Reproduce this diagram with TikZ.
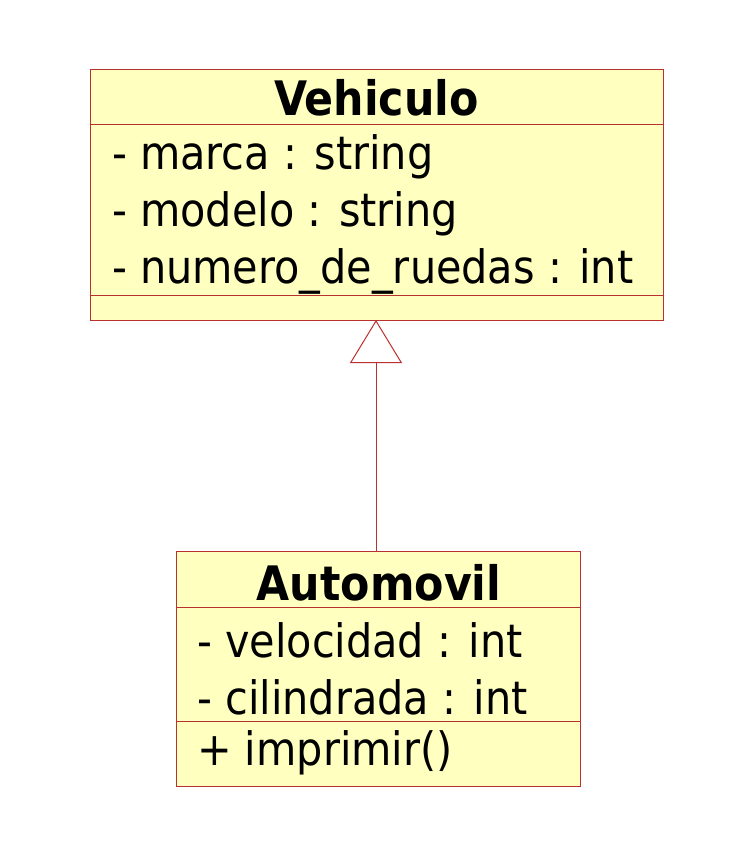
\documentclass[tikz,border=0pt]{standalone}
\usepackage{fontspec}
\setmainfont{DejaVu Sans Condensed}
\usetikzlibrary{arrows.meta}
\definecolor{umlfill}{HTML}{FFFFC0}
\definecolor{umlline}{HTML}{B83030}
\begin{document}
\begin{tikzpicture}[x=1pt,y=-1pt,
  classbox/.style={draw=umlline,fill=umlfill,line width=1pt,inner sep=0pt,anchor=north west},
  sep/.style={draw=umlline,line width=1pt},
  title/.style={font=\fontsize{47.5}{47.5}\selectfont\bfseries,anchor=center,inner sep=0pt},
  attr/.style={font=\fontsize{46}{46}\selectfont,anchor=west,inner sep=0pt},
  inherit/.style={draw=umlline,line width=1pt,-{Triangle[open,length=43pt,width=52pt,line width=1pt]}}]
\useasboundingbox (0,0) rectangle (752,856);
% Vehiculo
\node[classbox,minimum width=573pt,minimum height=251pt] (veh) at (90,69) {};
\draw[sep] (90,125) -- (663,125);
\draw[sep] (90,295) -- (663,295);
\node[title] (vehT) at (376.5,98) {Vehiculo};
\node[attr] (va1) at (112,157) {- marca : string};
\node[attr] (va2) at (112,214) {- modelo : string};
\node[attr] (va3) at (112,271) {- numero\_de\_ruedas : int};
% Automovil
\node[classbox,minimum width=404pt,minimum height=235pt] (auto) at (176,551) {};
\draw[sep] (176,607) -- (580,607);
\draw[sep] (176,721) -- (580,721);
\node[title] (autoT) at (379,583) {Automovil};
\node[attr] (aa1) at (197,640) {- velocidad : int};
\node[attr] (aa2) at (197,697) {- cilindrada : int};
\node[attr] (am1) at (197,753) {+ imprimir()};
% inheritance
\draw[inherit] (auto.north -| 376,0) -- (376,320);
\end{tikzpicture}
\end{document}
